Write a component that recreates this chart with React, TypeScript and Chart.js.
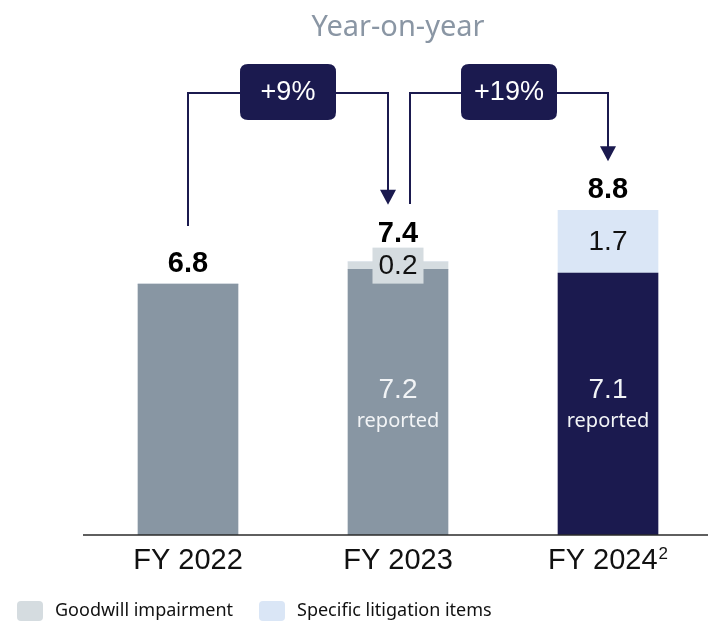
import React, { useEffect, useRef } from "react";
import { Chart, registerables } from "chart.js";

Chart.register(...registerables);

// ---- data ----
const categories = ["FY 2022", "FY 2023", "FY 2024"];
const categorySuperscripts = ["", "", "2"];
const reported = [6.8, 7.2, 7.1];
const goodwillImpairment = [0, 0.2, 0];
const litigationItems = [0, 0, 1.7];
const insideLabels = ["", "reported", "reported"];
const growthLabels = ["+9%", "+19%"];
const chartTitle = "Year-on-year";
const legendLabels = ["Goodwill impairment", "Specific litigation items"];

// ---- styles ----
const NAVY = "#1b1a4f";
const GOODWILL = "#d5dce0";
const LITIGATION = "#dae6f6";
const TITLE_GREY = "#8a96a4";
const NUM_FONT = "'Liberation Sans', Arial, sans-serif";
const TXT_FONT = "'Noto Sans', sans-serif";

const reportedColors = ["#8896a3", "#8896a3", NAVY];

function roundRect(ctx: CanvasRenderingContext2D, x: number, y: number, w: number, h: number, r: number) {
  ctx.beginPath();
  ctx.moveTo(x + r, y);
  ctx.lineTo(x + w - r, y);
  ctx.quadraticCurveTo(x + w, y, x + w, y + r);
  ctx.lineTo(x + w, y + h - r);
  ctx.quadraticCurveTo(x + w, y + h, x + w - r, y + h);
  ctx.lineTo(x + r, y + h);
  ctx.quadraticCurveTo(x, y + h, x, y + h - r);
  ctx.lineTo(x, y + r);
  ctx.quadraticCurveTo(x, y, x + r, y);
  ctx.closePath();
}

const overlayPlugin = {
  id: "overlay",
  afterDraw(chart: any) {
    const ctx: CanvasRenderingContext2D = chart.ctx;
    const xs = chart.scales.x;
    const ys = chart.scales.y;
    const ca = chart.chartArea;
    const zeroY = ys.getPixelForValue(0);
    ctx.save();

    // axis line
    ctx.strokeStyle = "#2a2a2a";
    ctx.lineWidth = 1.5;
    ctx.beginPath();
    ctx.moveTo(ca.left, zeroY);
    ctx.lineTo(chart.width, zeroY);
    ctx.stroke();

    // category labels
    categories.forEach((c, i) => {
      const cx = xs.getPixelForValue(i);
      ctx.font = `29px ${NUM_FONT}`;
      const w = ctx.measureText(c).width;
      const sup = categorySuperscripts[i];
      ctx.font = `17px ${NUM_FONT}`;
      const sw = sup ? ctx.measureText(sup).width + 1 : 0;
      const start = cx - (w + sw) / 2;
      ctx.fillStyle = "#111";
      ctx.textAlign = "left";
      ctx.textBaseline = "alphabetic";
      ctx.font = `29px ${NUM_FONT}`;
      ctx.fillText(c, start, zeroY + 34);
      if (sup) {
        ctx.font = `17px ${NUM_FONT}`;
        ctx.fillText(sup, start + w + 1, zeroY + 24);
      }
    });

    const metaRep = chart.getDatasetMeta(0);
    const extraMetas = [chart.getDatasetMeta(1), chart.getDatasetMeta(2)];
    const extraData = [goodwillImpairment, litigationItems];
    const extraColors = [GOODWILL, LITIGATION];

    const labelBaselines: number[] = [];
    const stackTops: number[] = [];

    categories.forEach((_, i) => {
      const bar = metaRep.data[i];
      const cx = bar.x;
      // inside labels
      if (insideLabels[i]) {
        ctx.fillStyle = "#f2f4f6";
        ctx.textAlign = "center";
        ctx.textBaseline = "middle";
        ctx.font = `28px ${NUM_FONT}`;
        ctx.fillText(reported[i].toFixed(1), cx, zeroY - 145);
        ctx.font = `20px ${TXT_FONT}`;
        ctx.fillText(insideLabels[i], cx, zeroY - 114);
      }
      // extra segment labels
      let boxTop = Infinity;
      extraMetas.forEach((m, k) => {
        const v = extraData[k][i];
        if (!v) return;
        const el = m.data[i];
        const cy = (el.y + el.base) / 2;
        const h = Math.abs(el.base - el.y);
        if (h < 36) {
          const bw = 51, bh = 36;
          ctx.fillStyle = extraColors[k];
          ctx.fillRect(cx - bw / 2, cy - bh / 2, bw, bh);
          boxTop = Math.min(boxTop, cy - bh / 2);
        }
        ctx.fillStyle = "#111";
        ctx.textAlign = "center";
        ctx.textBaseline = "middle";
        ctx.font = `28px ${NUM_FONT}`;
        ctx.fillText(v.toFixed(1), cx, cy + 1);
      });
      // total labels
      const total = reported[i] + goodwillImpairment[i] + litigationItems[i];
      const top = ys.getPixelForValue(total);
      stackTops.push(top);
      const baseline = boxTop < Infinity ? boxTop - 6 : top - 12;
      labelBaselines.push(baseline);
      ctx.fillStyle = "#000";
      ctx.textAlign = "center";
      ctx.textBaseline = "alphabetic";
      ctx.font = `bold 29px ${NUM_FONT}`;
      ctx.fillText(total.toFixed(1), cx, baseline);
    });

    // growth connectors
    const lineY = 93;
    growthLabels.forEach((lab, i) => {
      const x1 = xs.getPixelForValue(i) + (i > 0 ? 12 : 0);
      const x2 = xs.getPixelForValue(i + 1) + (i + 1 < categories.length - 1 ? -10 : 0);
      const y1 = stackTops[i] - 58;
      const tip = labelBaselines[i + 1] - 37;
      ctx.strokeStyle = NAVY;
      ctx.fillStyle = NAVY;
      ctx.lineWidth = 2;
      ctx.beginPath();
      ctx.moveTo(x1, y1);
      ctx.lineTo(x1, lineY);
      ctx.lineTo(x2, lineY);
      ctx.lineTo(x2, tip - 14);
      ctx.stroke();
      ctx.beginPath();
      ctx.moveTo(x2 - 8, tip - 15);
      ctx.lineTo(x2 + 8, tip - 15);
      ctx.lineTo(x2, tip);
      ctx.closePath();
      ctx.fill();
      const bx = (x1 + x2) / 2;
      roundRect(ctx, bx - 48, lineY - 29, 96, 56, 8);
      ctx.fill();
      ctx.fillStyle = "#ffffff";
      ctx.textAlign = "center";
      ctx.textBaseline = "middle";
      ctx.font = `27px ${NUM_FONT}`;
      ctx.fillText(lab, bx, lineY);
    });

    // title
    ctx.fillStyle = TITLE_GREY;
    ctx.textAlign = "center";
    ctx.textBaseline = "alphabetic";
    ctx.font = `29px ${TXT_FONT}`;
    ctx.fillText(chartTitle, (ca.left + ca.right) / 2, 36);

    // legend
    const legendColors = [GOODWILL, LITIGATION];
    const legendX = [17, 259];
    legendLabels.forEach((lab, k) => {
      const lx = legendX[k];
      ctx.fillStyle = legendColors[k];
      roundRect(ctx, lx, 601, 26, 20, 4);
      ctx.fill();
      ctx.fillStyle = "#111";
      ctx.textAlign = "left";
      ctx.textBaseline = "middle";
      ctx.font = `18px ${TXT_FONT}`;
      ctx.fillText(lab, lx + 38, 611);
    });

    ctx.restore();
  },
};

export default function App() {
  const canvasRef = useRef<HTMLCanvasElement | null>(null);

  useEffect(() => {
    document.body.style.margin = "0";
    const canvas = canvasRef.current;
    if (!canvas) return;
    const chart = new Chart(canvas, {
      type: "bar",
      data: {
        labels: categories,
        datasets: [
          { label: "Reported", data: reported, backgroundColor: reportedColors, barThickness: 100 },
          { label: legendLabels[0], data: goodwillImpairment, backgroundColor: GOODWILL, barThickness: 100 },
          { label: legendLabels[1], data: litigationItems, backgroundColor: LITIGATION, barThickness: 100 },
        ],
      },
      options: {
        responsive: false,
        animation: false,
        devicePixelRatio: 1,
        layout: { padding: { top: 166, bottom: 88, left: 83, right: 0 } },
        plugins: { legend: { display: false }, tooltip: { enabled: false }, title: { display: false } },
        scales: {
          x: { stacked: true, display: false, grid: { display: false } },
          y: { stacked: true, display: false, min: 0, max: 10, grid: { display: false } },
        },
      },
      plugins: [overlayPlugin],
    });
    return () => chart.destroy();
  }, []);

  return (
    <div style={{ width: 708, height: 623, overflow: "hidden" }}>
      <canvas ref={canvasRef} width={713} height={623} style={{ display: "block" }} />
    </div>
  );
}
